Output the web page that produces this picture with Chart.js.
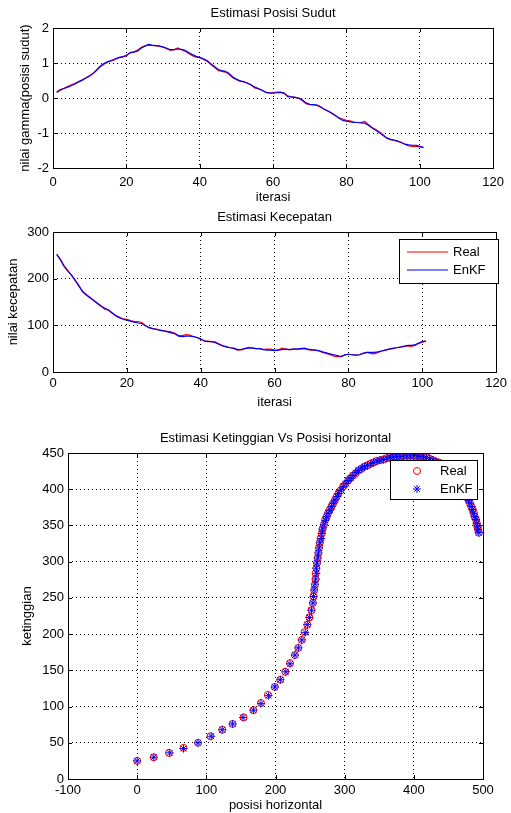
<!DOCTYPE html>
<html>
<head>
<meta charset="utf-8">
<script src="https://cdn.jsdelivr.net/npm/chart.js@4.4.0/dist/chart.umd.min.js"></script>
<style>
  body { margin: 0; background: #fff; }
  .plot { position: absolute; left: 0; }
  canvas { display: block; }
</style>
</head>
<body>
<div class="plot" style="top:0"><canvas id="chart1" width="511" height="205"></canvas></div>
<div class="plot" style="top:205px"><canvas id="chart2" width="511" height="205"></canvas></div>
<div class="plot" style="top:410px"><canvas id="chart3" width="511" height="403"></canvas></div>
<script>
// data (iterasi 1..101)
const sudutReal = [0.18,0.24,0.28,0.33,0.38,0.42,0.47,0.52,0.58,0.64,
  0.70,0.80,0.90,0.97,1.03,1.06,1.10,1.15,1.17,1.20,
  1.30,1.32,1.36,1.44,1.49,1.51,1.50,1.49,1.48,1.45,
  1.41,1.36,1.38,1.43,1.38,1.34,1.27,1.21,1.17,1.15,
  1.10,1.05,0.96,0.88,0.79,0.76,0.74,0.68,0.58,0.52,
  0.48,0.46,0.42,0.37,0.29,0.26,0.22,0.17,0.15,0.15,
  0.17,0.17,0.14,0.06,0.03,0.02,-0.01,-0.08,-0.16,-0.19,
  -0.20,-0.21,-0.26,-0.33,-0.38,-0.44,-0.51,-0.57,-0.60,-0.64,
  -0.65,-0.69,-0.70,-0.70,-0.67,-0.76,-0.84,-0.90,-0.97,-1.05,
  -1.15,-1.19,-1.21,-1.24,-1.28,-1.33,-1.37,-1.38,-1.38,-1.40,
  -1.42];
const sudutEnKF = [0.16,0.22,0.27,0.31,0.35,0.40,0.46,0.51,0.57,0.63,
  0.71,0.82,0.92,0.99,1.04,1.08,1.12,1.16,1.18,1.22,
  1.29,1.31,1.34,1.42,1.48,1.53,1.51,1.50,1.48,1.46,
  1.42,1.38,1.38,1.40,1.39,1.36,1.30,1.24,1.19,1.16,
  1.12,1.07,0.98,0.90,0.82,0.78,0.76,0.70,0.60,0.54,
  0.49,0.47,0.43,0.38,0.31,0.27,0.22,0.16,0.14,0.14,
  0.15,0.16,0.14,0.04,0.03,0.02,0.00,-0.06,-0.14,-0.18,
  -0.19,-0.20,-0.26,-0.32,-0.37,-0.43,-0.50,-0.58,-0.64,-0.66,
  -0.68,-0.70,-0.70,-0.71,-0.72,-0.78,-0.86,-0.92,-0.99,-1.07,
  -1.14,-1.18,-1.20,-1.23,-1.27,-1.32,-1.34,-1.35,-1.35,-1.38,
  -1.41];

const kecepatanReal = [252,242,228,218,207,196,186,172,166,160,
  154,148,142,134,133,126,120,116,114,113,
  110,108,108,106,100,95,93,92,90,88,
  87,86,83,78,78,80,79,76,74,70,
  67,66,65,64,60,56,54,52,50,47,
  48,51,53,52,50,50,48,49,49,47,
  47,51,49,48,49,49,49,50,48,47,
  47,45,42,40,37,34,33,33,36,38,
  37,36,37,40,42,40,39,42,45,47,
  49,51,52,54,55,56,55,57,61,64,
  66];
const kecepatanEnKF = [252,240,226,216,208,197,184,173,165,159,
  153,147,141,137,133,127,121,117,113,111,
  109,107,105,104,99,95,93,91,89,88,
  86,84,82,77,76,77,77,76,74,71,
  66,65,65,63,59,56,54,52,51,48,
  48,50,51,51,50,50,48,47,47,46,
  47,48,49,48,49,49,50,51,49,48,
  47,46,43,41,39,37,35,33,37,38,
  37,36,37,40,42,42,42,43,45,47,
  49,50,52,53,55,57,57,58,62,65,
  66];

const posisiReal = [0,24,46,67,88,106,123,138,154,168,179,189,199,207,214,221,228,233,238,242,246,249,252,
  254,255,256,257,258,258,259,260,261,262,263,264,265,267,268,270,
  272,274,276,278,281,283,286,288,291,294,298,301,305,308,312,316,320,324,328,333,337,342,346,351,356,
  361,366,371,375,380,385,390,395,400,404,409,414,419,423,428,432,436,440,444,448,451,455,458,461,464,
  466,469,471,473,475,477,479,481,483,485,487,488,490,491,492,493,494];
const tinggiReal = [25,30,36,43,50,59,68,76,85,95,105,116,127,137,148,160,171,181,192,203,213,223,233,
  243,252,261,268,276,284,291,298,305,312,319,326,332,339,345,351,
  358,362,367,371,376,380,385,389,394,398,404,407,412,415,419,422,426,428,431,433,435,437,439,440,441,
  443,443,444,445,445,446,446,446,446,446,445,445,444,442,440,438,437,435,433,431,428,425,422,418,414,
  410,405,401,397,393,389,385,381,376,372,367,362,358,353,348,344,340];
const posisiEnKF = [0,24,47,67,88,107,123,138,153,168,179,190,199,207,215,221,228,233,238,243,246,249,252,
  254,255,256,257,258,259,259,260,261,262,263,264,266,267,268,270,
  272,274,276,279,281,284,286,289,291,295,298,302,305,309,312,316,320,325,329,333,338,342,347,351,356,
  361,366,370,375,380,385,390,395,400,405,409,414,418,423,428,432,436,440,444,448,452,455,458,461,464,
  467,469,471,473,475,477,479,481,483,485,486,488,490,491,492,493,494];
const tinggiEnKF = [25,30,36,42,50,59,68,76,85,95,104,115,127,137,148,159,171,181,192,202,213,223,233,
  243,252,261,269,276,284,291,298,305,312,319,326,332,339,345,351,
  357,362,367,371,376,381,385,390,394,399,404,408,412,415,419,423,426,429,431,433,435,437,439,440,441,
  443,444,444,445,445,446,446,446,446,446,445,445,444,442,440,438,436,435,433,431,428,425,421,418,414,
  410,405,401,397,393,389,385,381,376,372,367,362,358,353,348,344,340];

const FONT = '"Liberation Sans", Arial, Helvetica, sans-serif';
Chart.defaults.font.family = FONT;
Chart.defaults.font.size = 13;
Chart.defaults.color = '#000';

const keIterasi = arr => arr.map((v, i) => ({ x: i + 1, y: v }));
const gabung = (xs, ys) => xs.map((x, i) => ({ x: x, y: ys[i] }));

// kotak sumbu ala matlab: garis tepi, tick ke dalam, judul, legenda
const gayaMatlab = {
  id: 'gayaMatlab',
  afterDraw(chart, args, opts) {
    const { ctx, chartArea: a, scales } = chart;
    ctx.save();
    ctx.strokeStyle = '#000';
    ctx.lineWidth = 1;
    ctx.beginPath();
    scales.x.ticks.forEach(t => {
      const px = Math.round(scales.x.getPixelForValue(t.value)) + 0.5;
      ctx.moveTo(px, a.bottom); ctx.lineTo(px, a.bottom - 4);
      ctx.moveTo(px, a.top); ctx.lineTo(px, a.top + 4);
    });
    scales.y.ticks.forEach(t => {
      const py = Math.round(scales.y.getPixelForValue(t.value)) + 0.5;
      ctx.moveTo(a.left, py); ctx.lineTo(a.left + 4, py);
      ctx.moveTo(a.right, py); ctx.lineTo(a.right - 4, py);
    });
    ctx.stroke();
    ctx.strokeRect(Math.round(a.left) + 0.5, Math.round(a.top) + 0.5,
      Math.round(a.right - a.left), Math.round(a.bottom - a.top));

    ctx.fillStyle = '#000';
    ctx.font = '13px ' + FONT;
    ctx.textAlign = 'center';
    ctx.textBaseline = 'middle';
    ctx.fillText(opts.judul, (a.left + a.right) / 2, opts.judulY);

    const lg = opts.legenda;
    if (lg) {
      ctx.fillStyle = '#fff';
      ctx.fillRect(lg.x, lg.y, lg.w, lg.h);
      ctx.strokeStyle = '#000';
      ctx.strokeRect(lg.x + 0.5, lg.y + 0.5, lg.w, lg.h);
      chart.data.datasets.forEach((ds, i) => {
        const y = lg.y + lg.baris[i];
        ctx.strokeStyle = ds.borderColor;
        if (lg.jenis === 'garis') {
          ctx.lineWidth = 1.2;
          ctx.beginPath();
          ctx.moveTo(lg.x + lg.s0, y); ctx.lineTo(lg.x + lg.s1, y);
          ctx.stroke();
        } else {
          ctx.fillStyle = 'rgba(0,0,0,0)';
          ctx.lineWidth = ds.borderWidth;
          Chart.helpers.drawPoint(ctx, { pointStyle: ds.pointStyle, radius: ds.pointRadius, borderWidth: ds.borderWidth, rotation: 0 }, lg.x + lg.s0, y);
        }
        ctx.fillStyle = '#000';
        ctx.textAlign = 'left';
        ctx.fillText(ds.label, lg.x + lg.tx, y);
      });
    }
    ctx.restore();
  }
};

function buatGrafik(id, s) {
  const H = s.tinggi;
  return new Chart(document.getElementById(id), {
    type: s.tipe,
    data: { datasets: s.datasets },
    plugins: [gayaMatlab],
    options: {
      responsive: false,
      animation: false,
      events: [],
      layout: { padding: { top: s.area.top, right: 511 - s.area.right, left: 0, bottom: 0 } },
      plugins: {
        legend: { display: false },
        tooltip: { enabled: false },
        gayaMatlab: { judul: s.judul, judulY: s.judulY, legenda: s.legenda }
      },
      scales: {
        x: {
          type: 'linear', min: s.xMin, max: s.xMax,
          ticks: { stepSize: s.xStep, padding: s.xPad, maxRotation: 0, autoSkip: false },
          grid: { color: '#000', drawTicks: false },
          border: { display: false, dash: [1, 3] },
          title: { display: true, text: s.xJudul, padding: { top: 0, bottom: 0 }, font: { size: 13 } },
          afterFit: sc => { sc.height = H - s.area.bottom; }
        },
        y: {
          type: 'linear', min: s.yMin, max: s.yMax,
          ticks: { stepSize: s.yStep, padding: 4 },
          grid: { color: '#000', drawTicks: false },
          border: { display: false, dash: [1, 3] },
          title: { display: true, text: s.yJudul, padding: { top: s.yJudulPad, bottom: 0 }, font: { size: 13 } },
          afterFit: sc => { sc.width = s.area.left; }
        }
      }
    }
  });
}

const garis = (label, warna, data, urutan) => ({
  label: label, data: data, borderColor: warna, borderWidth: 1.2,
  pointRadius: 0, tension: 0, fill: false, order: urutan
});

buatGrafik('chart1', {
  tipe: 'line', tinggi: 205,
  area: { left: 53, right: 499, top: 28, bottom: 168 },
  judul: 'Estimasi Posisi Sudut', judulY: 13,
  xMin: 0, xMax: 120, xStep: 20, xPad: 7, xJudul: 'iterasi',
  yMin: -2, yMax: 2, yStep: 1, yJudul: 'nilai gamma(posisi sudut)', yJudulPad: 18,
  datasets: [
    garis('Real', '#ff0000', keIterasi(sudutReal), 1),
    garis('EnKF', '#0000ff', keIterasi(sudutEnKF), 0)
  ]
});

buatGrafik('chart2', {
  tipe: 'line', tinggi: 205,
  area: { left: 53, right: 499, top: 27, bottom: 167 },
  judul: 'Estimasi Kecepatan', judulY: 12,
  xMin: 0, xMax: 120, xStep: 20, xPad: 4, xJudul: 'iterasi',
  yMin: 0, yMax: 300, yStep: 100, yJudul: 'nilai kecepatan', yJudulPad: 6,
  legenda: { x: 399, y: 34, w: 99, h: 44, baris: [13, 31], s0: 8, s1: 49, tx: 54, jenis: 'garis' },
  datasets: [
    garis('Real', '#ff0000', keIterasi(kecepatanReal), 1),
    garis('EnKF', '#0000ff', keIterasi(kecepatanEnKF), 0)
  ]
});

buatGrafik('chart3', {
  tipe: 'scatter', tinggi: 403,
  area: { left: 68, right: 483, top: 43, bottom: 369 },
  judul: 'Estimasi Ketinggian Vs Posisi horizontal', judulY: 28,
  xMin: -100, xMax: 500, xStep: 100, xPad: 4, xJudul: 'posisi horizontal',
  yMin: 0, yMax: 450, yStep: 50, yJudul: 'ketinggian', yJudulPad: 20,
  legenda: { x: 390, y: 50, w: 87, h: 39, baris: [11, 29], s0: 27, tx: 50, jenis: 'titik' },
  datasets: [
    { label: 'Real', data: gabung(posisiReal, tinggiReal), pointStyle: 'circle', pointRadius: 3.5,
      borderColor: '#ff0000', backgroundColor: 'rgba(0,0,0,0)', borderWidth: 1, showLine: false, order: 1 },
    { label: 'EnKF', data: gabung(posisiEnKF, tinggiEnKF), pointStyle: 'star', pointRadius: 4,
      borderColor: '#0000ff', backgroundColor: 'rgba(0,0,0,0)', borderWidth: 1, showLine: false, order: 0 }
  ]
});
</script>
</body>
</html>
